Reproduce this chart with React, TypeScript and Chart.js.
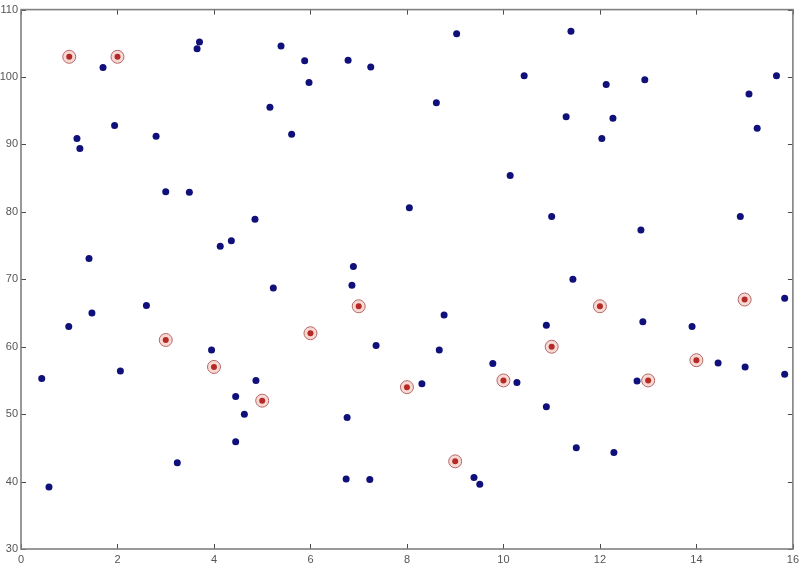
import React, { useEffect, useRef } from "react";
import { Chart, registerables } from "chart.js";

Chart.register(...registerables);

const blueX = [
  3.70, 3.65, 5.39, 1.70, 5.16, 5.61, 1.94, 1.16, 1.22, 2.80,
  3.00, 3.49, 4.85, 4.36, 4.13, 1.41, 5.23, 2.60, 1.47, 0.99,
  3.95, 2.06, 0.43, 4.87, 4.45, 4.63, 4.45, 3.24, 0.58, 9.03,
  5.88, 6.78, 7.25, 5.97, 10.43, 8.61, 10.14, 8.05, 6.89, 6.86,
  8.77, 7.36, 8.67, 9.78, 8.31, 10.28, 10.89, 10.89, 6.76, 6.74,
  7.23, 9.39, 9.51, 11.40, 12.13, 12.93, 15.66, 15.09, 15.26, 11.30,
  12.27, 12.04, 11.00, 14.91, 12.85, 11.44, 15.83, 12.89, 13.91, 14.45,
  15.01, 15.83, 12.77, 11.51, 12.29,
];
const blueY = [
  105.2, 104.2, 104.6, 101.4, 95.5, 91.5, 92.8, 90.9, 89.4, 91.2,
  83.0, 82.9, 78.9, 75.7, 74.9, 73.1, 68.7, 66.1, 65.0, 63.0,
  59.5, 56.4, 55.3, 55.0, 52.6, 50.0, 45.9, 42.8, 39.2, 106.4,
  102.4, 102.5, 101.5, 99.2, 100.2, 96.2, 85.4, 80.6, 71.9, 69.1,
  64.7, 60.2, 59.5, 57.5, 54.5, 54.7, 63.2, 51.1, 49.5, 40.4,
  40.3, 40.6, 39.6, 106.8, 98.9, 99.6, 100.2, 97.5, 92.4, 94.1,
  93.9, 90.9, 79.3, 79.3, 77.3, 70.0, 67.2, 63.7, 63.0, 57.6,
  57.0, 55.9, 54.9, 45.0, 44.3,
];
const redX = [1, 2, 3, 4, 5, 6, 7, 8, 9, 10, 11, 12, 13, 14, 15];
const redY = [103, 103, 61, 57, 52, 62, 66, 54, 43, 55, 60, 66, 55, 58, 67];

const xTicks = [0, 2, 4, 6, 8, 10, 12, 14, 16];
const yTicks = [30, 40, 50, 60, 70, 80, 90, 100, 110];

const framePlugin = {
  id: "frameTicks",
  afterDatasetsDraw(chart: any) {
    const { ctx, chartArea, scales } = chart;
    const { left, right, top, bottom } = chartArea;
    ctx.save();
    ctx.strokeStyle = "#4a4a4a";
    ctx.lineWidth = 1;
    const L = 5;
    ctx.beginPath();
    xTicks.forEach((v) => {
      const px = Math.round(scales.x.getPixelForValue(v)) + 0.5;
      ctx.moveTo(px, bottom);
      ctx.lineTo(px, bottom - L);
      ctx.moveTo(px, top);
      ctx.lineTo(px, top + L);
    });
    yTicks.forEach((v) => {
      const py = Math.round(scales.y.getPixelForValue(v)) + 0.5;
      ctx.moveTo(left, py);
      ctx.lineTo(left + L, py);
      ctx.moveTo(right, py);
      ctx.lineTo(right - L, py);
    });
    ctx.stroke();
    ctx.strokeStyle = "#808080";
    ctx.lineWidth = 1.6;
    ctx.strokeRect(left, top, right - left, bottom - top);
    ctx.restore();
  },
};

export default function App() {
  const ref = useRef<HTMLCanvasElement>(null);
  useEffect(() => {
    if (!ref.current) return;
    const blue = blueX.map((x, i) => ({ x, y: blueY[i] }));
    const red = redX.map((x, i) => ({ x, y: redY[i] }));
    const chart = new Chart(ref.current, {
      type: "scatter",
      data: {
        datasets: [
          {
            data: blue,
            order: 3,
            pointRadius: 3.5,
            pointBackgroundColor: "#10107a",
            pointBorderColor: "#10107a",
            pointBorderWidth: 0,
          },
          {
            data: red,
            order: 2,
            pointRadius: 6.5,
            pointBackgroundColor: "#f7d8d4",
            pointBorderColor: "#b36a66",
            pointBorderWidth: 1,
          },
          {
            data: red,
            order: 1,
            pointRadius: 3,
            pointBackgroundColor: "#b52a25",
            pointBorderColor: "#b52a25",
            pointBorderWidth: 0,
          },
        ],
      },
      options: {
        animation: false,
        responsive: false,
        maintainAspectRatio: false,
        layout: { padding: { top: 9, right: 9, left: 0, bottom: 0 } },
        plugins: { legend: { display: false }, tooltip: { enabled: false } },
        scales: {
          x: {
            type: "linear",
            min: 0,
            max: 16,
            afterBuildTicks: (s: any) => {
              s.ticks = xTicks.map((v) => ({ value: v }));
            },
            afterFit: (s: any) => {
              s.height = 18;
            },
            grid: { display: false, drawTicks: false },
            border: { display: false },
            ticks: {
              padding: 4,
              color: "#555",
              font: { family: "Liberation Sans, Arial", size: 11 },
              maxRotation: 0,
              autoSkip: false,
            },
          },
          y: {
            type: "linear",
            min: 30,
            max: 110,
            afterBuildTicks: (s: any) => {
              s.ticks = yTicks.map((v) => ({ value: v }));
            },
            afterFit: (s: any) => {
              s.width = 21;
            },
            grid: { display: false, drawTicks: false },
            border: { display: false },
            ticks: {
              padding: 3,
              color: "#555",
              font: { family: "Liberation Sans, Arial", size: 11 },
              autoSkip: false,
            },
          },
        },
      },
      plugins: [framePlugin],
    });
    return () => chart.destroy();
  }, []);
  return (
    <div style={{ position: "absolute", left: 0, top: 0, width: 803, height: 567, background: "#fff" }}>
      <canvas ref={ref} width={803} height={567} style={{ display: "block" }} />
    </div>
  );
}
